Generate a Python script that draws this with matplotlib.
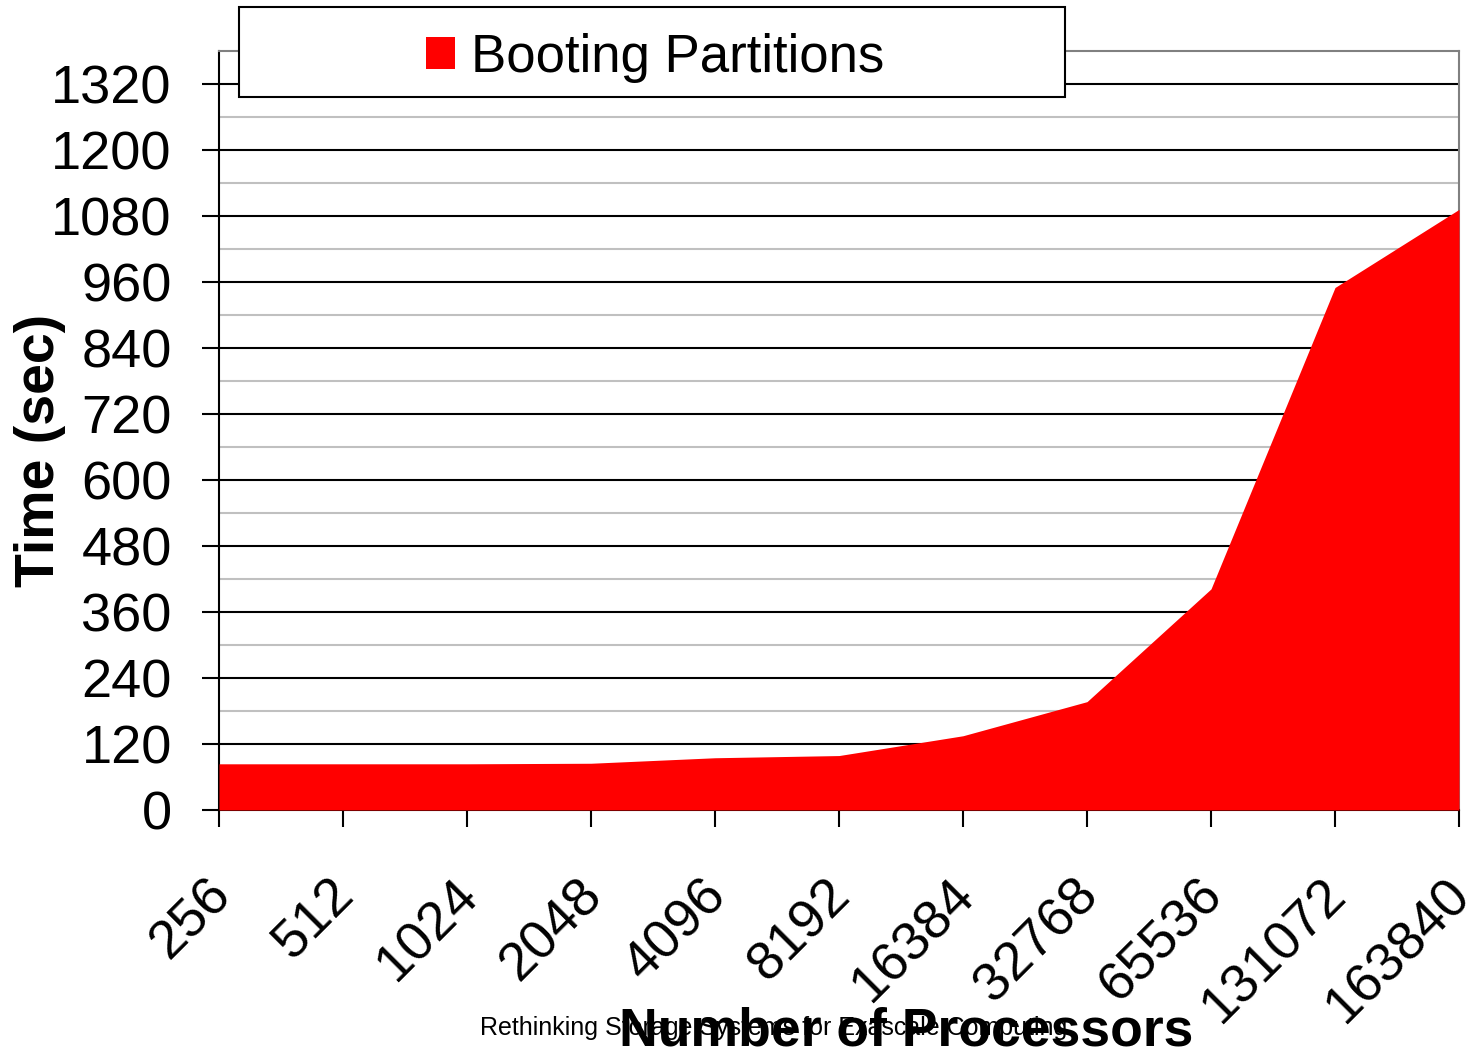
import numpy as np
import matplotlib
matplotlib.use('Agg')
import matplotlib.pyplot as plt
import matplotlib.transforms as mtrans
from matplotlib.patches import Rectangle, Patch

plt.rcParams['font.family'] = ['Liberation Sans', 'DejaVu Sans']

# boot time per partition size
procs = ['256', '512', '1024', '2048', '4096', '8192', '16384',
         '32768', '65536', '131072', '163840']
boot_sec = [84, 84, 84, 85, 95, 99, 135, 197, 402, 950, 1092]
yticks = np.arange(0, 1321, 120)

fig = plt.figure(figsize=(14.72, 10.54), dpi=100)
ax = fig.add_axes([219/1472, 1-810/1054, (1459-219)/1472, (810-51)/1054])

xpos = np.arange(len(procs))
ax.fill_between(xpos, 0, boot_sec, color='#ff0000', linewidth=0, zorder=3)

ax.set_xlim(0, len(procs)-1)
ax.set_ylim(0, 1380)
ax.set_yticks(yticks)
ax.set_yticks(np.arange(60, 1380, 120), minor=True)
ax.set_axisbelow(True)
ax.grid(which='major', axis='y', color='black', linewidth=1.5, zorder=1)
ax.grid(which='minor', axis='y', color='#c0c0c0', linewidth=1.5, zorder=1)
ax.tick_params(axis='y', which='minor', length=0)
ax.tick_params(axis='both', which='major', length=12, width=1.5,
               labelsize=39, direction='out')
ax.tick_params(axis='y', pad=22)

ax.set_xticks(xpos)
ax.set_xticklabels(procs, rotation=45, ha='right', va='top',
                   rotation_mode='anchor')
shift = mtrans.ScaledTranslation(-14/100, -38/100, fig.dpi_scale_trans)
for lab in ax.get_xticklabels():
    lab.set_transform(lab.get_transform() + shift)

for s in ['left', 'bottom']:
    ax.spines[s].set_color('black')
    ax.spines[s].set_linewidth(1.5)
for s in ['top', 'right']:
    ax.spines[s].set_color('#808080')
    ax.spines[s].set_linewidth(1.5)

fig.text(40/1472, 1-450/1054, 'Time (sec)', rotation=90, fontsize=40,
         fontweight='bold', ha='center', va='center')
fig.text(906/1472, 1-1032/1054, 'Number of Processors', fontsize=38.5,
         fontweight='bold', ha='center', va='center')
fig.text(480/1472, 1-1028/1054, 'Rethinking Storage Systems for Exascale Computing',
         fontsize=18, ha='left', va='center', zorder=10)

# legend box sits over the top of the plot
fig.patches.append(Rectangle((239/1472, 1-97/1054), (1065-239)/1472, 90/1054,
                             transform=fig.transFigure, facecolor='white',
                             edgecolor='black', linewidth=1.5, zorder=5))
fig.legend(handles=[Patch(facecolor='#ff0000', edgecolor='none')],
           labels=['Booting Partitions'], loc='center',
           bbox_to_anchor=(655/1472, 1-58/1054), frameon=False, fontsize=38,
           handlelength=0.55, handleheight=0.55, handletextpad=0.3)

fig.savefig('out.png', dpi=100)
